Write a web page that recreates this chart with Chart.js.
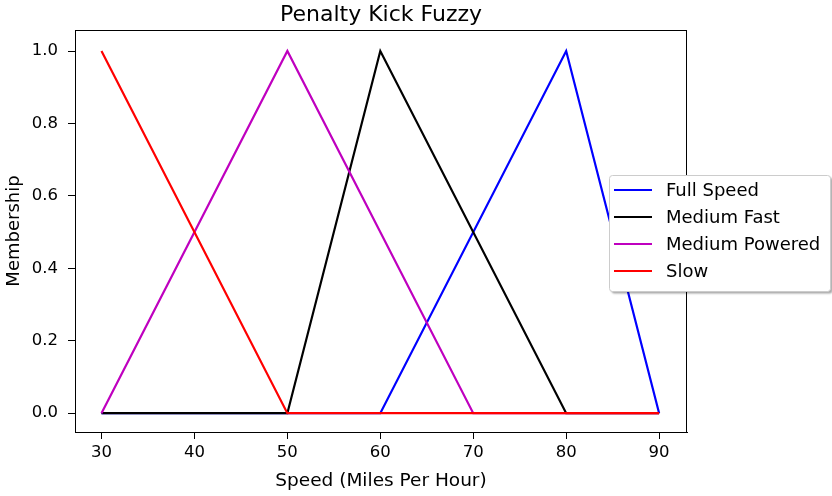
<!DOCTYPE html>
<html>
<head>
<meta charset="utf-8">
<script src="https://cdn.jsdelivr.net/npm/chart.js@4.4.1/dist/chart.umd.min.js"></script>
<style>
  html, body { margin: 0; padding: 0; background: #fff; }
  #wrap { width: 832px; height: 496px; }
</style>
</head>
<body>
<div id="wrap"><canvas id="chart"></canvas></div>
<script>
// membership functions (x = speed in mph)
const fullSpeedX = [30, 60, 80, 90];
const fullSpeedY = [0, 0, 1, 0];
const mediumFastX = [30, 50, 60, 80, 90];
const mediumFastY = [0, 0, 1, 0, 0];
const mediumPoweredX = [30, 50, 70, 90];
const mediumPoweredY = [0, 1, 0, 0];
const slowX = [30, 50, 90];
const slowY = [1, 0, 0];

const xTicks = [30, 40, 50, 60, 70, 80, 90];
const yTicks = [0, 0.2, 0.4, 0.6, 0.8, 1.0];

const FONT = "'DejaVu Sans', sans-serif";

const toPoints = (xs, ys) => xs.map((x, i) => ({ x, y: ys[i] }));

const series = [
	{ label: "Full Speed", color: "#0000ff", points: toPoints(fullSpeedX, fullSpeedY) },
	{ label: "Medium Fast", color: "#000000", points: toPoints(mediumFastX, mediumFastY) },
	{ label: "Medium Powered", color: "#bf00bf", points: toPoints(mediumPoweredX, mediumPoweredY) },
	{ label: "Slow", color: "#ff0000", points: toPoints(slowX, slowY) },
];

// frame, title and the legend box that sits over the plot's right edge
const decor = {
	id: "decor",
	afterDraw(chart) {
		const { ctx, chartArea: a } = chart;
		ctx.save();
		ctx.strokeStyle = "#000";
		ctx.lineWidth = 1;
		ctx.strokeRect(a.left + 0.5, a.top + 0.5, a.right - a.left - 1, a.bottom - a.top);

		ctx.fillStyle = "#000";
		ctx.font = "22px " + FONT;
		ctx.textAlign = "center";
		ctx.textBaseline = "middle";
		ctx.fillText("Penalty Kick Fuzzy", (a.left + a.right) / 2, 15);

		// legend
		const bx = 609.5, by = 175.5, bw = 221, bh = 116;
		ctx.shadowColor = "rgba(0,0,0,0.35)";
		ctx.shadowOffsetX = 2;
		ctx.shadowOffsetY = 2;
		ctx.shadowBlur = 2;
		ctx.fillStyle = "#fff";
		ctx.beginPath();
		ctx.roundRect(bx, by, bw, bh, 3);
		ctx.fill();
		ctx.shadowColor = "transparent";
		ctx.strokeStyle = "#cccccc";
		ctx.stroke();

		ctx.font = "18px " + FONT;
		ctx.textAlign = "left";
		ctx.textBaseline = "middle";
		series.forEach((s, i) => {
			const y = 190 + i * 27;
			ctx.strokeStyle = s.color;
			ctx.lineWidth = 2;
			ctx.beginPath();
			ctx.moveTo(614, y);
			ctx.lineTo(652, y);
			ctx.stroke();
			ctx.fillStyle = "#000";
			ctx.fillText(s.label, 666, y + 1);
		});
		ctx.restore();
	},
};

// later series sit on top (lower order is drawn last in Chart.js)
const data = {
	datasets: series.map((s, i) => ({
		label: s.label,
		data: s.points,
		borderColor: s.color,
		backgroundColor: s.color,
		borderWidth: 2.2,
		pointRadius: 0,
		tension: 0,
		order: series.length - i,
	})),
};

const options = {
	responsive: true,
	maintainAspectRatio: false,
	animation: false,
	layout: {
		padding: { top: 30, right: 145, left: 0, bottom: 0 },
	},
	plugins: {
		legend: { display: false },
		title: { display: false },
		tooltip: { enabled: false },
	},
	scales: {
		x: {
			type: "linear",
			min: 27.15,
			max: 93,
			afterBuildTicks: (axis) => { axis.ticks = xTicks.map((v) => ({ value: v })); },
			afterFit: (axis) => { axis.height = 64; },
			ticks: {
				color: "#000",
				font: { family: FONT, size: 16.5 },
				padding: 4,
				maxRotation: 0,
			},
			grid: { drawOnChartArea: false, tickLength: 7, color: "#000" },
			border: { color: "#000" },
			title: {
				display: true,
				text: "Speed (Miles Per Hour)",
				color: "#000",
				font: { family: FONT, size: 18.5 },
				padding: { top: 2 },
			},
		},
		y: {
			min: -0.052,
			max: 1.058,
			afterBuildTicks: (axis) => { axis.ticks = yTicks.map((v) => ({ value: v })); },
			afterFit: (axis) => { axis.width = 75; },
			ticks: {
				color: "#000",
				font: { family: FONT, size: 16.5 },
				padding: 10,
				callback: (v) => Number(v).toFixed(1),
			},
			grid: { drawOnChartArea: false, tickLength: 7, color: "#000" },
			border: { color: "#000" },
			title: {
				display: true,
				text: "Membership",
				color: "#000",
				font: { family: FONT, size: 18 },
				padding: { top: 4, bottom: 0 },
			},
		},
	},
};

new Chart(document.querySelector("#chart"), {
	type: "line",
	data,
	options,
	plugins: [decor],
});
</script>
</body>
</html>
